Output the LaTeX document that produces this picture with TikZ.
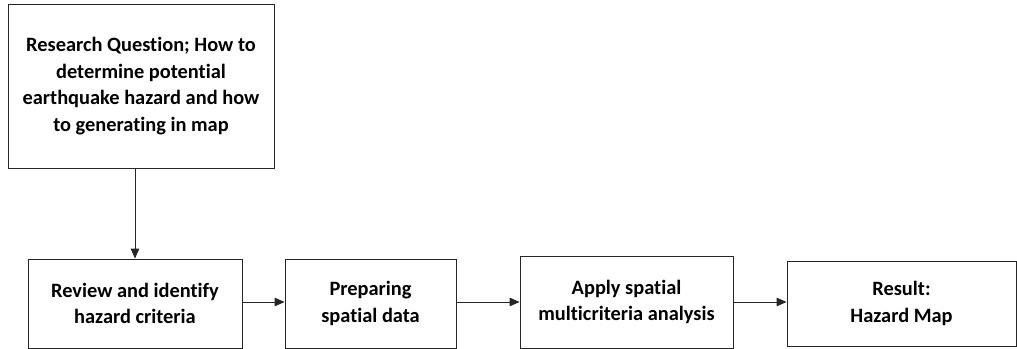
\documentclass[tikz,border=0pt]{standalone}
\usepackage{fontspec}
\setmainfont{Carlito}[Ligatures={NoCommon}]
\usetikzlibrary{positioning, arrows.meta}

\tikzset{
  stage/.style={shape=rectangle, draw=black!85, line width=0.6pt, align=center,
    font=\fontsize{14.5}{18.8}\selectfont\bfseries, inner sep=2pt},
  flow/.style={-{Triangle[length=7pt, width=6pt]}, draw=black!85, line width=0.6pt}
}

\begin{document}
\begin{tikzpicture}
        \useasboundingbox (0,0) rectangle (25.425,-8.725);

        \node[stage, minimum width=6.65cm, minimum height=4.1cm] (Q) at (3.525,-2.15)
            {Research Question; How to\\determine potential\\earthquake hazard and how\\to generating in map};

        \node[stage, minimum width=5.35cm, minimum height=2.225cm] (R) at (3.375,-7.5875)
            {Review and identify\\hazard criteria};
        \node[stage, minimum width=4.275cm, minimum height=2.225cm] (P) at (9.2625,-7.5875)
            {Preparing\\spatial data};
        \node[stage, minimum width=5.325cm, minimum height=2.3cm] (A) at (15.6625,-7.55)
            {Apply spatial\\multicriteria analysis};
        \node[stage, minimum width=5.725cm, minimum height=2.125cm] (H) at (22.5375,-7.5875)
            {Result:\\Hazard Map};

        \draw [flow] (R.north |- Q.south) -- (R.north);
        \draw [flow] (R.east |- A) -- (P.west |- A);
        \draw [flow] (P.east |- A) -- (A.west);
        \draw [flow] (A.east) -- (H.west |- A);
    \end{tikzpicture}
\end{document}
